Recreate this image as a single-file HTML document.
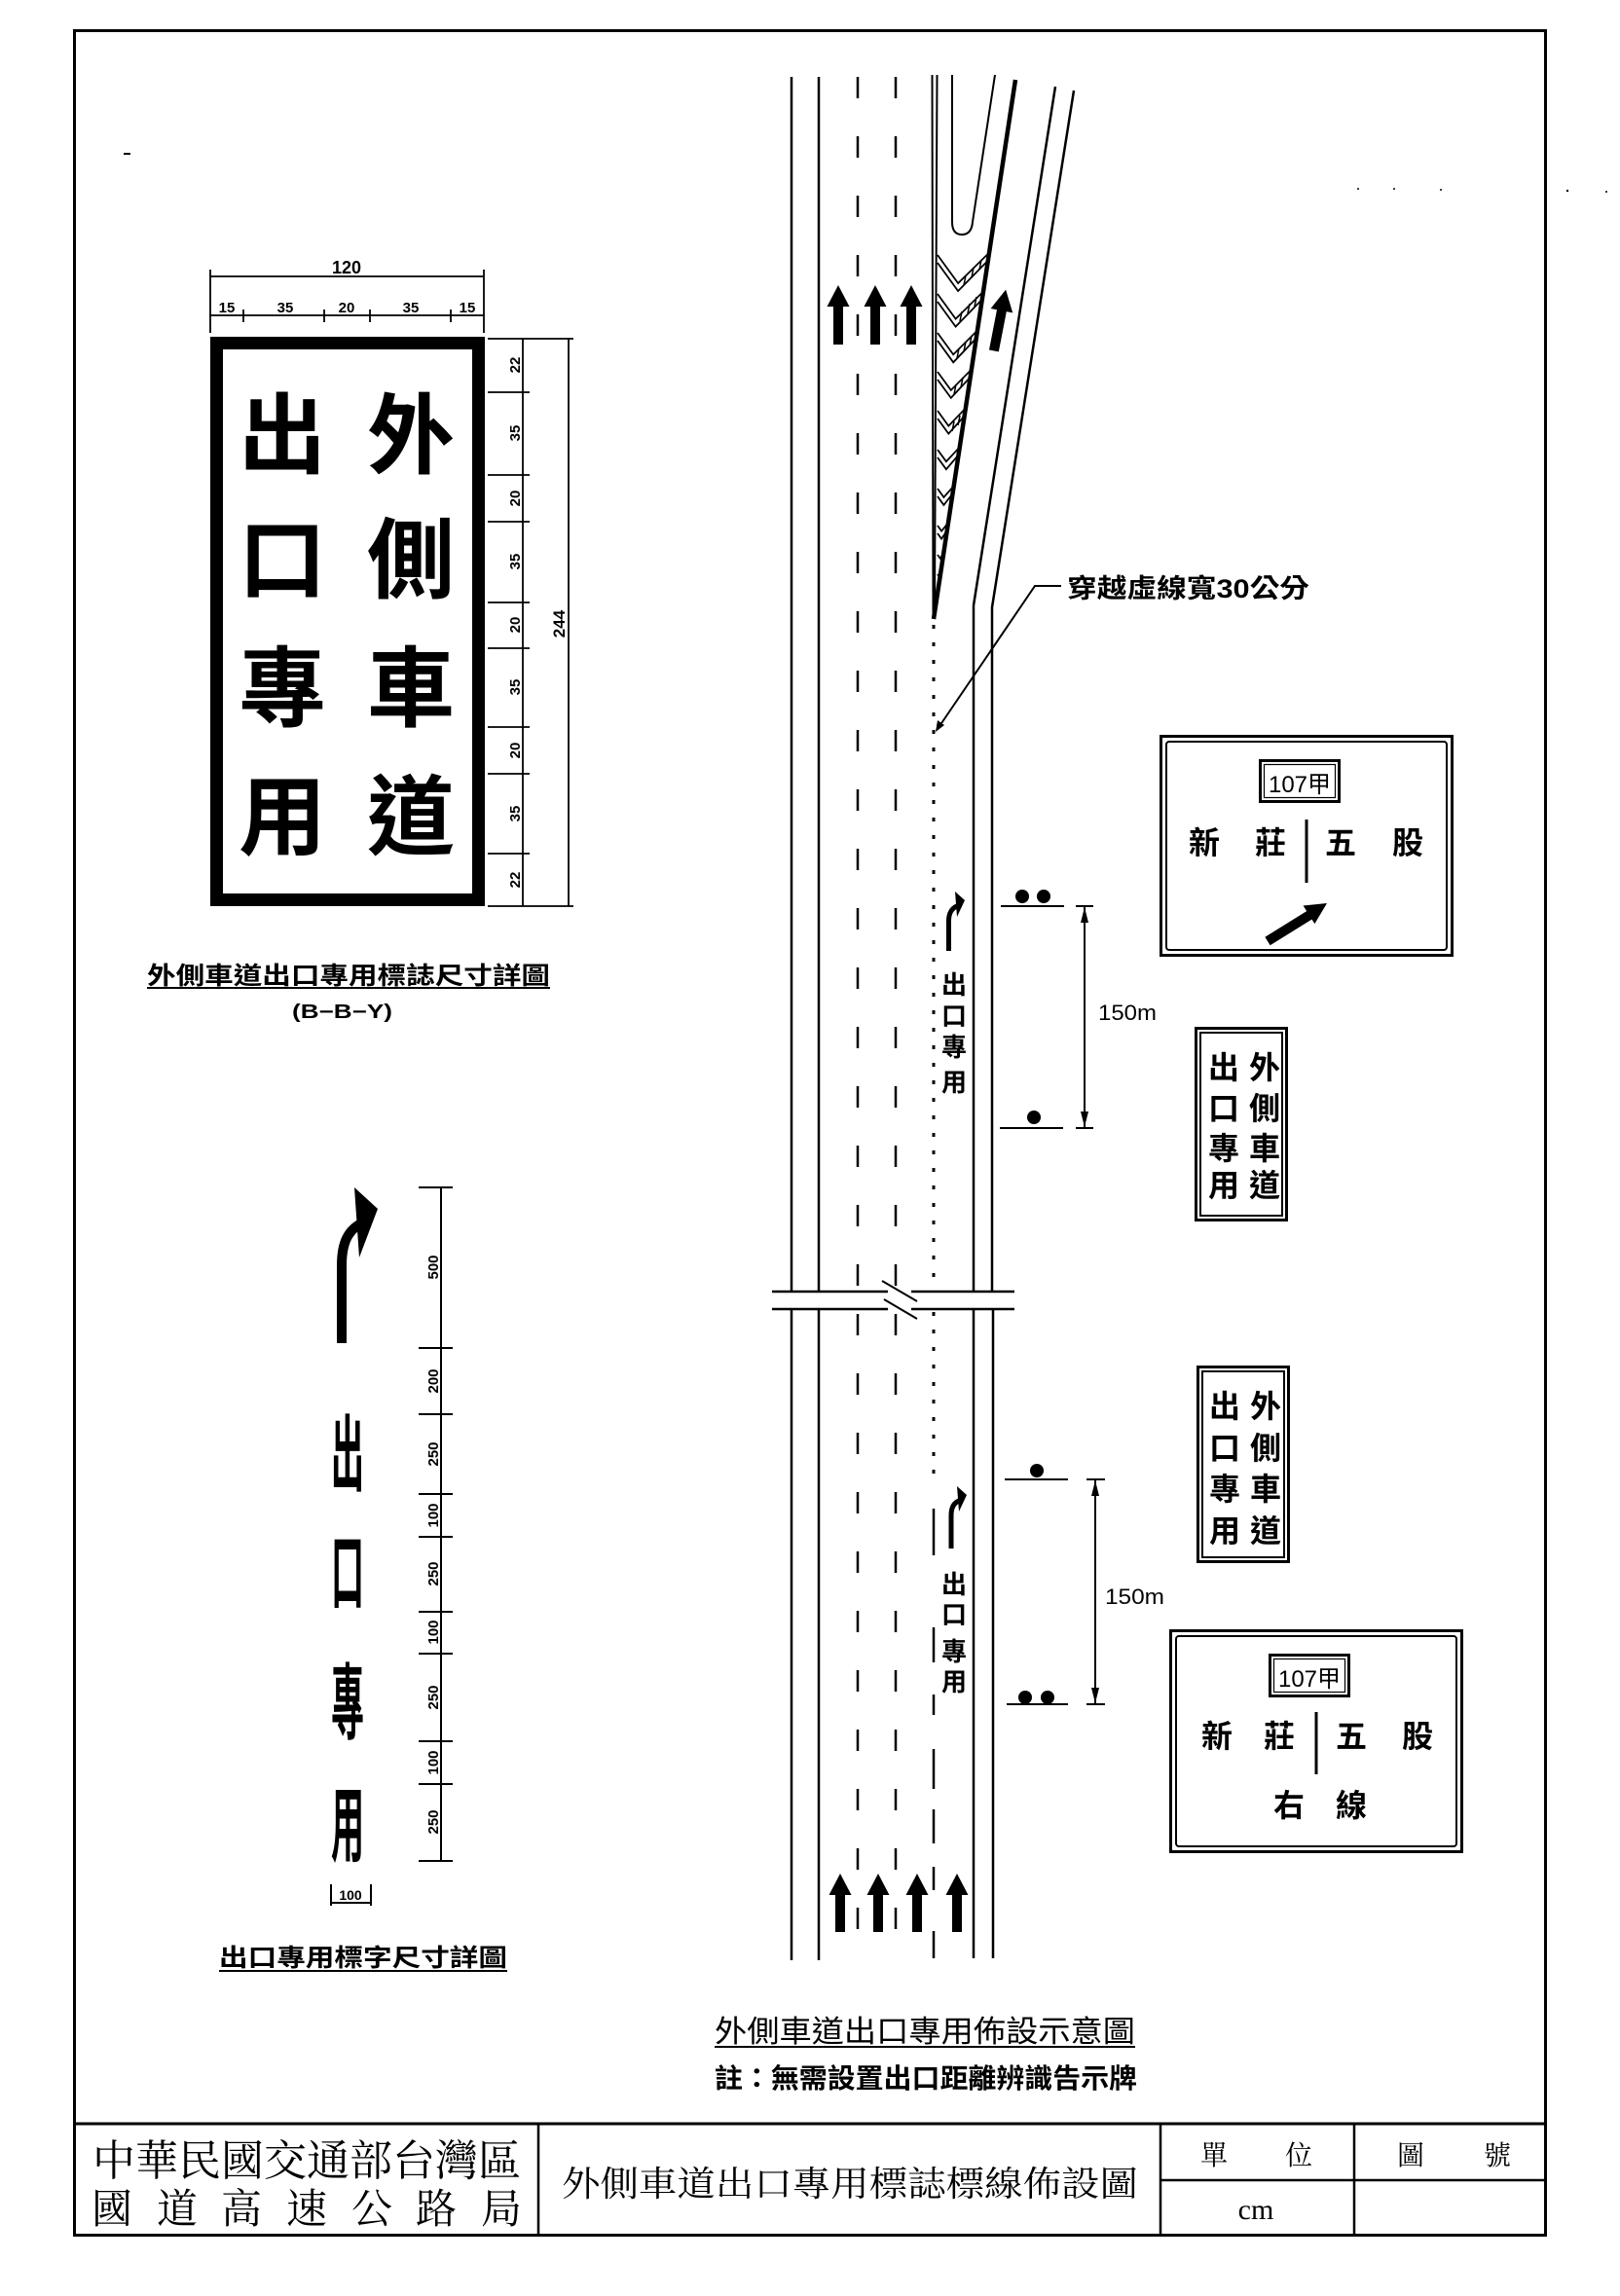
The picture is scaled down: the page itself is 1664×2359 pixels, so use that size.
<!DOCTYPE html>
<html>
<head>
<meta charset="utf-8">
<style>
html,body{margin:0;padding:0;background:#fff;}
svg{display:block;}
.s{font-family:"Liberation Sans","Noto Sans CJK TC",sans-serif;}
.cj{font-family:"Liberation Sans","Noto Sans CJK TC",sans-serif;font-weight:700;}
.cn{font-family:"Liberation Sans","Noto Sans CJK TC",sans-serif;font-weight:400;}
.sf{font-family:"Liberation Serif","Noto Serif CJK SC",serif;}
.d{font-family:"Liberation Sans",sans-serif;font-weight:700;}
</style>
</head>
<body>
<svg width="1664" height="2359" viewBox="0 0 1664 2359" xmlns="http://www.w3.org/2000/svg">
<rect width="1664" height="2359" fill="#fff"/>
<g stroke="#000" fill="none">
  <rect x="76.5" y="31.5" width="1511" height="2265" stroke-width="3"/>
  <line x1="76" y1="2182" x2="1588" y2="2182" stroke-width="3"/>
  <line x1="553" y1="2182" x2="553" y2="2297" stroke-width="2.5"/>
  <line x1="1192" y1="2182" x2="1192" y2="2297" stroke-width="2.5"/>
  <line x1="1391" y1="2182" x2="1391" y2="2297" stroke-width="2.5"/>
  <line x1="1192" y1="2240" x2="1588" y2="2240" stroke-width="2.5"/>
  <line x1="127" y1="158" x2="134" y2="158" stroke-width="2"/>
</g>
<g fill="#000">
  <circle cx="1395" cy="194" r="1"/><circle cx="1432" cy="194" r="1"/><circle cx="1480" cy="195" r="1"/><circle cx="1610" cy="196" r="1.2"/><circle cx="1650" cy="197" r="1"/>
</g>

<!-- Title block text -->
<text class="sf" x="95" y="2235" font-size="44" textLength="440" lengthAdjust="spacingAndGlyphs">中華民國交通部台灣區</text>
<g class="sf" font-size="42" text-anchor="middle">
  <text x="115" y="2284">國</text><text x="182" y="2284">道</text><text x="248" y="2284">高</text><text x="315" y="2284">速</text><text x="382" y="2284">公</text><text x="448" y="2284">路</text><text x="515" y="2284">局</text>
</g>
<text class="sf" x="577" y="2256" font-size="36" textLength="592" lengthAdjust="spacingAndGlyphs">外側車道出口專用標誌標線佈設圖</text>
<g class="sf" font-size="28" text-anchor="middle">
  <text x="1247" y="2224">單</text><text x="1334" y="2224">位</text>
  <text x="1449" y="2224">圖</text><text x="1538" y="2224">號</text>
</g>
<text x="1290" y="2280" font-family="Liberation Serif, serif" font-size="30" text-anchor="middle">cm</text>

<!-- ============ Left sign detail ============ -->
<rect x="222.5" y="352.5" width="269" height="572" fill="none" stroke="#000" stroke-width="13"/>
<g class="cj" font-size="90" text-anchor="middle">
  <text x="290" y="479">出</text><text x="422" y="479">外</text>
  <text x="290" y="607">口</text><text x="422" y="607">側</text>
  <text x="290" y="739">專</text><text x="422" y="739">車</text>
  <text x="290" y="871">用</text><text x="422" y="871">道</text>
</g>
<g stroke="#000" stroke-width="1.8" fill="none">
  <line x1="216" y1="284" x2="497" y2="284"/>
  <line x1="216" y1="277" x2="216" y2="342"/>
  <line x1="497" y1="277" x2="497" y2="342"/>
  <line x1="216" y1="324" x2="497" y2="324"/>
  <line x1="250" y1="318" x2="250" y2="331"/>
  <line x1="333" y1="318" x2="333" y2="331"/>
  <line x1="380" y1="318" x2="380" y2="331"/>
  <line x1="463" y1="318" x2="463" y2="331"/>
  <line x1="537" y1="348" x2="537" y2="931"/>
  <line x1="501" y1="348" x2="589" y2="348"/>
  <line x1="501" y1="931" x2="589" y2="931"/>
  <line x1="501" y1="403" x2="544" y2="403"/>
  <line x1="501" y1="488" x2="544" y2="488"/>
  <line x1="501" y1="536" x2="544" y2="536"/>
  <line x1="501" y1="619" x2="544" y2="619"/>
  <line x1="501" y1="666" x2="544" y2="666"/>
  <line x1="501" y1="747" x2="544" y2="747"/>
  <line x1="501" y1="795" x2="544" y2="795"/>
  <line x1="501" y1="877" x2="544" y2="877"/>
  <line x1="584" y1="348" x2="584" y2="931"/>
</g>
<g class="d" text-anchor="middle" font-size="15">
  <text x="356" y="281" font-size="18">120</text>
  <text x="233" y="321">15</text>
  <text x="293" y="321">35</text>
  <text x="356" y="321">20</text>
  <text x="422" y="321">35</text>
  <text x="480" y="321">15</text>
  <text transform="translate(534,375) rotate(-90)">22</text>
  <text transform="translate(534,445) rotate(-90)">35</text>
  <text transform="translate(534,512) rotate(-90)">20</text>
  <text transform="translate(534,577) rotate(-90)">35</text>
  <text transform="translate(534,642) rotate(-90)">20</text>
  <text transform="translate(534,706) rotate(-90)">35</text>
  <text transform="translate(534,771) rotate(-90)">20</text>
  <text transform="translate(534,836) rotate(-90)">35</text>
  <text transform="translate(534,904) rotate(-90)">22</text>
  <text transform="translate(580,641) rotate(-90)" font-size="17">244</text>
</g>
<text class="cj" x="151" y="1011" font-size="25" textLength="414" lengthAdjust="spacingAndGlyphs">外側車道出口專用標誌尺寸詳圖</text>
<line x1="151" y1="1015" x2="565" y2="1015" stroke="#000" stroke-width="2"/>
<text class="d" x="300" y="1046" font-size="20" textLength="103" lengthAdjust="spacingAndGlyphs">(B−B−Y)</text>

<!-- ============ Left lower: road-marking letters ============ -->
<path d="M351,1380 L351,1300 C351,1276 358,1263 373,1256" fill="none" stroke="#000" stroke-width="10"/>
<polygon points="364,1220 388,1242 369,1292" fill="#000"/>
<g class="cj" font-size="34" text-anchor="middle">
  <text transform="translate(357,1525) scale(1,2.5)">出</text>
  <text transform="translate(357,1646) scale(1,2.5)">口</text>
  <text transform="translate(357,1780) scale(1,2.5)">專</text>
  <text transform="translate(357,1906) scale(1,2.5)">用</text>
</g>
<g stroke="#000" stroke-width="2" fill="none">
  <line x1="453" y1="1220" x2="453" y2="1912"/>
  <line x1="430" y1="1220" x2="465" y2="1220"/>
  <line x1="430" y1="1385" x2="465" y2="1385"/>
  <line x1="430" y1="1453" x2="465" y2="1453"/>
  <line x1="430" y1="1535" x2="465" y2="1535"/>
  <line x1="430" y1="1579" x2="465" y2="1579"/>
  <line x1="430" y1="1656" x2="465" y2="1656"/>
  <line x1="430" y1="1699" x2="465" y2="1699"/>
  <line x1="430" y1="1789" x2="465" y2="1789"/>
  <line x1="430" y1="1833" x2="465" y2="1833"/>
  <line x1="430" y1="1912" x2="465" y2="1912"/>
  <line x1="340" y1="1936" x2="340" y2="1958"/>
  <line x1="381" y1="1936" x2="381" y2="1958"/>
  <line x1="340" y1="1955" x2="381" y2="1955"/>
</g>
<g class="d" text-anchor="middle" font-size="15">
  <text transform="translate(450,1302) rotate(-90)">500</text>
  <text transform="translate(450,1419) rotate(-90)">200</text>
  <text transform="translate(450,1494) rotate(-90)">250</text>
  <text transform="translate(450,1557) rotate(-90)">100</text>
  <text transform="translate(450,1617) rotate(-90)">250</text>
  <text transform="translate(450,1677) rotate(-90)">100</text>
  <text transform="translate(450,1744) rotate(-90)">250</text>
  <text transform="translate(450,1811) rotate(-90)">100</text>
  <text transform="translate(450,1872) rotate(-90)">250</text>
  <text x="360" y="1952" font-size="14">100</text>
</g>
<text class="cj" x="225" y="2020" font-size="25" textLength="296" lengthAdjust="spacingAndGlyphs">出口專用標字尺寸詳圖</text>
<line x1="225" y1="2025" x2="521" y2="2025" stroke="#000" stroke-width="2"/>

<!-- ============ Road diagram ============ -->
<g stroke="#000" stroke-width="2.5" fill="none">
  <line x1="813" y1="79" x2="813" y2="1327"/>
  <line x1="841" y1="79" x2="841" y2="1327"/>
  <line x1="813" y1="1345" x2="813" y2="2014"/>
  <line x1="841" y1="1345" x2="841" y2="2014"/>
  <path d="M1084,89 L1000,622 L1000,1327"/>
  <path d="M1103,93 L1019,624 L1019,1327"/>
  <line x1="1000" y1="1345" x2="1000" y2="2012"/>
  <line x1="1020" y1="1345" x2="1020" y2="2012"/>
  <line x1="793" y1="1327" x2="1042" y2="1327"/>
  <line x1="793" y1="1345" x2="1042" y2="1345"/>
</g>
<g stroke="#fff" stroke-width="8">
  <line x1="912" y1="1327" x2="936" y2="1327"/>
  <line x1="912" y1="1345" x2="936" y2="1345"/>
</g>
<g stroke="#000" stroke-width="2">
  <line x1="906" y1="1316" x2="942" y2="1337"/>
  <line x1="908" y1="1335" x2="942" y2="1355"/>
</g>
<g stroke="#000" stroke-width="2.5" fill="none" stroke-dasharray="22 39">
  <line x1="881" y1="79" x2="881" y2="1327"/>
  <line x1="920" y1="79" x2="920" y2="1327"/>
  <line x1="881" y1="1350" x2="881" y2="2016"/>
  <line x1="920" y1="1350" x2="920" y2="2016"/>
</g>
<g stroke="#000" stroke-width="3" fill="none" stroke-dasharray="4 14">
  <line x1="959" y1="642" x2="959" y2="1327"/>
  <line x1="959" y1="1348" x2="959" y2="1520"/>
</g>
<g stroke="#000" stroke-width="2.5">
  <line x1="959" y1="1550" x2="959" y2="1598"/>
  <line x1="959" y1="1672" x2="959" y2="1708"/>
  <line x1="959" y1="1741" x2="959" y2="1762"/>
  <line x1="959" y1="1797" x2="959" y2="1838"/>
  <line x1="959" y1="1859" x2="959" y2="1894"/>
  <line x1="959" y1="1918" x2="959" y2="1942"/>
  <line x1="959" y1="1984" x2="959" y2="2012"/>
</g>
<!-- gore -->
<g stroke="#000" fill="none">
  <line x1="957.5" y1="77" x2="958.5" y2="634" stroke-width="2"/>
  <line x1="962.5" y1="77" x2="960" y2="628" stroke-width="2"/>
  <line x1="1043" y1="82" x2="959" y2="636" stroke-width="4.5"/>
  <path d="M978,77 L978,228 Q978,241 988,241 Q998,241 999,228 L1022,77" stroke-width="2"/>
</g>
<g stroke="#000" stroke-width="1.8" fill="none" stroke-linejoin="miter">
  <polyline points="963,262 984.1,291 1015.7,260"/>
  <polyline points="963,270 984.1,299 1014.5,268"/>
  <polyline points="963,302 981.6,327.6 1009.6,300"/>
  <polyline points="963,310 981.6,335.6 1008.4,308"/>
  <polyline points="963,342 979.2,364.3 1003.5,340"/>
  <polyline points="963,350 979.2,372.3 1002.3,348"/>
  <polyline points="963,382 976.8,400.9 997.4,380"/>
  <polyline points="963,390 976.8,408.9 996.2,388"/>
  <polyline points="963,422 974.3,437.6 991.3,420"/>
  <polyline points="963,430 974.3,445.6 990.1,428"/>
  <polyline points="963,462 971.9,474.2 985.2,460"/>
  <polyline points="963,470 971.9,482.2 984,468"/>
  <polyline points="963,502 969.4,510.9 979.1,500"/>
  <polyline points="963,510 969.4,518.9 977.9,508"/>
  <polyline points="963,540 967.1,545.7 973.3,538"/>
  <polyline points="963,548 967.1,553.7 972.1,546"/>
  <polyline points="963,570 966,574 968.8,568"/>
  <polyline points="963,590 965,593 966,589"/>
</g>
<g stroke="#000" stroke-width="1.5">
  <line x1="992" y1="283" x2="990" y2="293"/><line x1="1000" y1="275" x2="998" y2="285"/><line x1="1008" y1="267" x2="1006" y2="277"/>
  <line x1="988" y1="320" x2="986" y2="330"/><line x1="996" y1="312" x2="994" y2="322"/><line x1="1003" y1="305" x2="1001" y2="315"/>
  <line x1="985" y1="358" x2="983" y2="368"/><line x1="992" y1="351" x2="990" y2="361"/><line x1="998" y1="345" x2="996" y2="355"/>
  <line x1="982" y1="395" x2="980" y2="405"/><line x1="989" y1="388" x2="987" y2="398"/>
  <line x1="980" y1="433" x2="978" y2="443"/><line x1="986" y1="427" x2="984" y2="437"/>
</g>
<!-- direction arrows -->
<g fill="#000">
  <polygon points="861,293 872.5,315 866,315 866,354 856,354 856,315 849.5,315"/>
  <polygon points="899,293 910.5,315 904,315 904,354 894,354 894,315 887.5,315"/>
  <polygon points="936,293 947.5,315 941,315 941,354 931,354 931,315 924.5,315"/>
  <polygon transform="rotate(11 1027 329)" points="1027,297 1038.5,319 1032,319 1032,361 1022,361 1022,319 1015.5,319"/>
  <polygon points="863,1925 874.5,1947 868,1947 868,1985 858,1985 858,1947 851.5,1947"/>
  <polygon points="902,1925 913.5,1947 907,1947 907,1985 897,1985 897,1947 890.5,1947"/>
  <polygon points="942,1925 953.5,1947 947,1947 947,1985 937,1985 937,1947 930.5,1947"/>
  <polygon points="983,1925 994.5,1947 988,1947 988,1985 978,1985 978,1947 971.5,1947"/>
</g>
<polyline points="1090,602 1063,602 963,749" fill="none" stroke="#000" stroke-width="2"/>
<polygon points="961,752 963,740 970,745" fill="#000"/>
<text class="cj" x="1096" y="614" font-size="27" textLength="249" lengthAdjust="spacingAndGlyphs">穿越虛線寬30公分</text>

<!-- road marking small arrows + text -->
<path d="M974.5,977 L974.5,946 C974.5,938 978,933 983,931" fill="none" stroke="#000" stroke-width="5"/>
<polygon points="981,916 991,925 983,942" fill="#000"/>
<g class="cj" font-size="26" text-anchor="middle">
  <text x="980" y="1021">出</text><text x="980" y="1053">口</text><text x="980" y="1085">專</text><text x="980" y="1121">用</text>
</g>
<path d="M977,1591 L977,1557 C977,1549 980,1544 985,1542" fill="none" stroke="#000" stroke-width="5"/>
<polygon points="983,1527 993,1536 985,1553" fill="#000"/>
<g class="cj" font-size="26" text-anchor="middle">
  <text x="980" y="1637">出</text><text x="980" y="1668">口</text><text x="980" y="1706">專</text><text x="980" y="1737">用</text>
</g>

<!-- 150m dims -->
<g fill="#000">
  <circle cx="1050" cy="921" r="7"/><circle cx="1072" cy="921" r="7"/>
  <circle cx="1062" cy="1148" r="7"/>
  <circle cx="1065" cy="1511" r="7"/>
  <circle cx="1053" cy="1744" r="7"/><circle cx="1076" cy="1744" r="7"/>
  <polygon points="1114,932 1110,948 1118,948"/>
  <polygon points="1114,1158 1110,1142 1118,1142"/>
  <polygon points="1125,1521 1121,1537 1129,1537"/>
  <polygon points="1125,1750 1121,1734 1129,1734"/>
</g>
<g stroke="#000" stroke-width="2">
  <line x1="1028" y1="931" x2="1093" y2="931"/>
  <line x1="1027" y1="1159" x2="1092" y2="1159"/>
  <line x1="1114" y1="931" x2="1114" y2="1159"/>
  <line x1="1105" y1="931" x2="1123" y2="931"/>
  <line x1="1105" y1="1159" x2="1123" y2="1159"/>
  <line x1="1032" y1="1520" x2="1097" y2="1520"/>
  <line x1="1034" y1="1751" x2="1097" y2="1751"/>
  <line x1="1125" y1="1520" x2="1125" y2="1751"/>
  <line x1="1116" y1="1520" x2="1135" y2="1520"/>
  <line x1="1116" y1="1751" x2="1135" y2="1751"/>
</g>
<text class="s" x="1128" y="1048" font-size="22" textLength="60" lengthAdjust="spacingAndGlyphs">150m</text>
<text class="s" x="1135" y="1648" font-size="22" textLength="61" lengthAdjust="spacingAndGlyphs">150m</text>

<!-- ============ Signs ============ -->
<g fill="none" stroke="#000">
  <rect x="1192.5" y="756.5" width="299" height="225" stroke-width="3"/>
  <rect x="1198" y="762" width="288" height="214" rx="3" stroke-width="2"/>
  <rect x="1294.5" y="781.5" width="81" height="42" stroke-width="3"/>
  <rect x="1298.5" y="785.5" width="73" height="34" stroke-width="1.2"/>
  <line x1="1342" y1="842" x2="1342" y2="907" stroke-width="3"/>
  <line x1="1302" y1="967" x2="1347" y2="939" stroke-width="10"/>
</g>
<polygon points="1363,928 1338.6,930.5 1350.4,949.1" fill="#000"/>
<text class="s" x="1335" y="814" font-size="24" text-anchor="middle">107甲</text>
<g class="cj" font-size="32" text-anchor="middle">
  <text x="1237" y="877">新</text><text x="1305" y="877">莊</text><text x="1377" y="877">五</text><text x="1446" y="877">股</text>
</g>

<g fill="none" stroke="#000">
  <rect x="1228.5" y="1056.5" width="93" height="197" stroke-width="3"/>
  <rect x="1233" y="1061" width="84" height="188" stroke-width="2"/>
</g>
<g class="cj" font-size="32" text-anchor="middle">
  <text x="1257" y="1108">出</text><text x="1299" y="1108">外</text>
  <text x="1257" y="1150">口</text><text x="1299" y="1150">側</text>
  <text x="1257" y="1191">專</text><text x="1299" y="1191">車</text>
  <text x="1257" y="1229">用</text><text x="1299" y="1229">道</text>
</g>

<g fill="none" stroke="#000">
  <rect x="1230.5" y="1404.5" width="93" height="200" stroke-width="3"/>
  <rect x="1235" y="1409" width="84" height="191" stroke-width="2"/>
</g>
<g class="cj" font-size="32" text-anchor="middle">
  <text x="1258" y="1456">出</text><text x="1300" y="1456">外</text>
  <text x="1258" y="1499">口</text><text x="1300" y="1499">側</text>
  <text x="1258" y="1541">專</text><text x="1300" y="1541">車</text>
  <text x="1258" y="1584">用</text><text x="1300" y="1584">道</text>
</g>

<g fill="none" stroke="#000">
  <rect x="1202.5" y="1675.5" width="299" height="227" stroke-width="3"/>
  <rect x="1208" y="1681" width="288" height="216" rx="3" stroke-width="2"/>
  <rect x="1304.5" y="1700.5" width="81" height="42" stroke-width="3"/>
  <rect x="1308.5" y="1704.5" width="73" height="34" stroke-width="1.2"/>
  <line x1="1352" y1="1759" x2="1352" y2="1823" stroke-width="3"/>
</g>
<text class="s" x="1345" y="1733" font-size="24" text-anchor="middle">107甲</text>
<g class="cj" font-size="32" text-anchor="middle">
  <text x="1250" y="1795">新</text><text x="1314" y="1795">莊</text><text x="1388" y="1795">五</text><text x="1456" y="1795">股</text>
  <text x="1324" y="1866">右</text><text x="1388" y="1866">線</text>
</g>

<!-- captions -->
<text x="734" y="2098" style="font-family:'Liberation Sans','Noto Sans CJK TC',sans-serif;font-weight:400;font-size:31px" textLength="432" lengthAdjust="spacingAndGlyphs">外側車道出口專用佈設示意圖</text>
<line x1="734" y1="2103" x2="1166" y2="2103" stroke="#000" stroke-width="2"/>
<text class="cj" x="734" y="2145" font-size="28" textLength="434" lengthAdjust="spacingAndGlyphs">註：無需設置出口距離辨識告示牌</text>
</svg>
</body>
</html>
